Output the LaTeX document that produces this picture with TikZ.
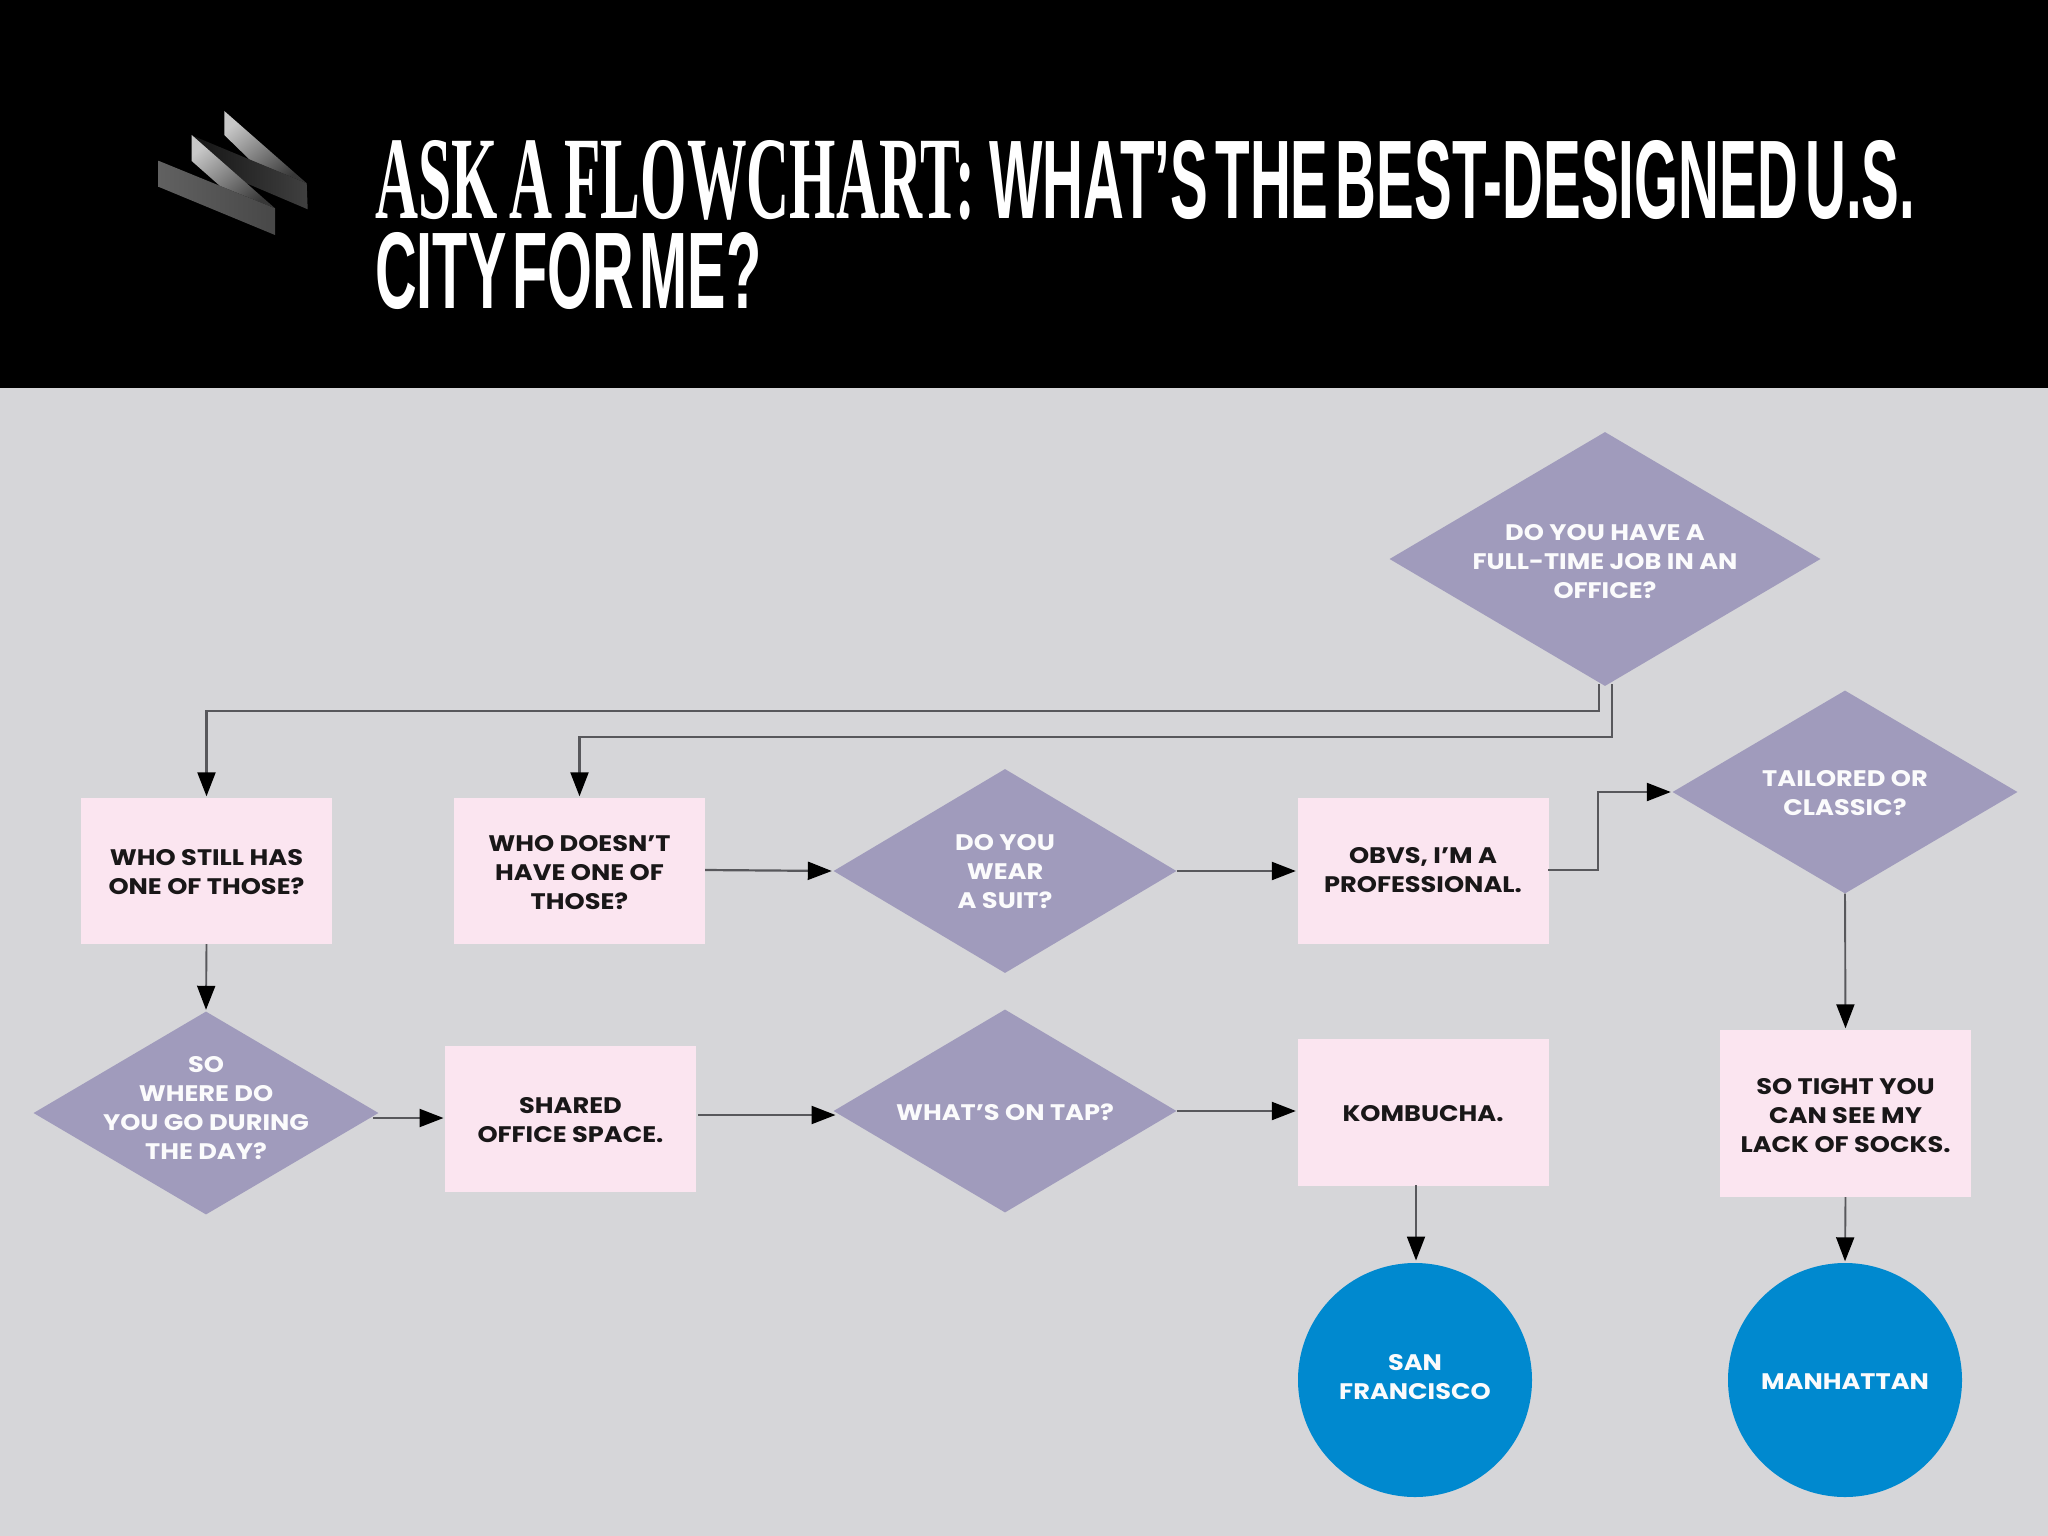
\documentclass[tikz,border=0pt]{standalone}
\usepackage{fontspec}
\usepackage{graphicx}
\setmainfont{Poppins}[FakeStretch=1.14]
\newfontfamily\titleserif{Liberation Serif}
\newfontfamily\titlesans{Liberation Sans}
\usetikzlibrary{shapes.geometric,arrows.meta,shadings}
\definecolor{bgc}{HTML}{D6D6D9}
\definecolor{dia}{HTML}{A09BBC}
\definecolor{rec}{HTML}{FBE5F0}
\definecolor{cir}{HTML}{0089CF}
\definecolor{lin}{HTML}{58585C}
\tikzset{
  x=1pt,y=-1pt,
  txt/.style={font=\fontsize{22.5}{29}\selectfont\bfseries,align=center,inner sep=0pt},
  diamtext/.style={txt,text=white!96!dia},
  rectext/.style={txt,text=black!90!rec},
  recbox/.style={rectangle,fill=rec,inner sep=0pt,minimum width=251pt},
  diam/.style={diamond,fill=dia,inner sep=0pt,aspect=1.7},
  circ/.style={circle,fill=cir,inner sep=0pt,minimum size=234pt},
  conn/.style={draw=lin,line width=2.2pt,-{Triangle[length=24pt,width=18pt,color=black]},shorten >=1.5pt},
  connfine/.style={conn,line width=1.9pt},
  titlenode/.style={anchor=base west,inner sep=0pt,text=white,font=\bfseries}
}
\begin{document}
\begin{tikzpicture}
\useasboundingbox (0,0) rectangle (2048,1536);
\fill[bgc] (0,0) rectangle (2048,1536);
\fill[black] (0,0) rectangle (2048,388);
% logo
\shade[top color=black!22,bottom color=black!78,shading angle=40] (224.3,111) -- (306.7,183.3) -- (250,160) -- (224.3,135) -- cycle;
\shade[left color=black!92,right color=black!75] (193.3,136) -- (306.7,183.3) -- (307.7,209.3) -- (220,172) -- cycle;
\shade[top color=black!22,bottom color=black!78,shading angle=40] (191.7,135) -- (275,208.3) -- (220,186) -- (191.7,161) -- cycle;
\shade[left color=black!62,right color=black!72] (158.3,160.7) -- (275,208.3) -- (275,235) -- (158.3,186.7) -- cycle;
% title
\node[titlenode] (t1) at (375,218) {\resizebox{600pt}{78pt}{\titleserif\spaceskip=.2em ASK A FLOWCHART:}\hspace{14pt}\resizebox{926pt}{78pt}{\titlesans\spaceskip=.13em WHAT’S THE BEST-DESIGNED U.S.}};
\node[titlenode] (t2) at (375,308) {\resizebox{386pt}{76pt}{\titlesans\spaceskip=.1em CITY FOR ME?}};
% diamonds
\node[diam,minimum width=431pt,minimum height=254pt,label={[diamtext,yshift=-3pt]center:DO YOU HAVE A\\FULL-TIME JOB IN AN\\OFFICE?}] (d1) at (1605,559) {};
\node[diam,minimum width=345pt,minimum height=203pt,label={[diamtext,yshift=-1pt]center:TAILORED OR\\CLASSIC?}] (tail) at (1845,792) {};
\node[diam,minimum width=343pt,minimum height=204pt,label={[diamtext,yshift=-1pt]center:DO YOU\\WEAR\\A SUIT?}] (wear) at (1005,871) {};
\node[diam,minimum width=345pt,minimum height=203pt,label={[diamtext,yshift=5pt]center:SO\\WHERE DO\\YOU GO DURING\\THE DAY?}] (where) at (206,1113) {};
\node[diam,minimum width=343pt,minimum height=203pt,label={[diamtext,yshift=-1pt]center:WHAT’S ON TAP?}] (tap) at (1005,1111) {};
% boxes
\node[recbox,minimum height=146pt,label={[rectext,yshift=-1pt]center:WHO STILL HAS\\ONE OF THOSE?}] (still) at (206.5,871) {};
\node[recbox,minimum height=146pt,label={[rectext,yshift=-2pt]center:WHO DOESN’T\\HAVE ONE OF\\THOSE?}] (doesnt) at (579.5,871) {};
\node[recbox,minimum height=146pt,label={[rectext,yshift=1pt]center:OBVS, I’M A\\PROFESSIONAL.}] (obvs) at (1423,871) {};
\node[recbox,minimum height=146pt,label={[rectext,yshift=-1pt]center:SHARED\\OFFICE SPACE.}] (shared) at (570.5,1119) {};
\node[recbox,minimum height=147pt,label={[rectext,yshift=-2pt]center:KOMBUCHA.}] (komb) at (1423,1112) {};
\node[recbox,minimum height=167pt,label={[rectext,yshift=-2pt]center:SO TIGHT YOU\\CAN SEE MY\\LACK OF SOCKS.}] (tight) at (1845.5,1113.5) {};
% circles
\node[circ,label={[diamtext,yshift=3pt]center:SAN\\FRANCISCO}] (sf) at (1415,1380) {};
\node[circ,label={[diamtext,yshift=-2pt]center:MANHATTAN}] (man) at (1845,1380) {};
% connector helpers
\coordinate (j1) at (1599,684);
\coordinate (e1) at (1599,711);
\coordinate (j2) at (1612,684);
\coordinate (e2) at (1612,737);
\coordinate (s1) at (705,870);
\coordinate (o1) at (1548,870);
\coordinate (o2) at (1598,870);
\coordinate (o3) at (1598,792);
\coordinate (w1) at (373,1118);
\coordinate (w2) at (445,1118);
\coordinate (sh1) at (698,1115);
\coordinate (sh2) at (837,1115);
\coordinate (kb1) at (1416,1185);
\coordinate (kb2) at (1416,1262);
% connectors
\draw[conn] (j1) -- (e1) -| (still.north);
\draw[conn] (j2) -- (e2) -| (doesnt.north);
\draw[connfine] (still.south) -- (where.north);
\draw[conn] (s1) -- (wear.west);
\draw[conn] (wear.east) -- (obvs.west |- wear.east);
\draw[conn] (o1) -- (o2) -- (o3) -- (tail.west);
\draw[connfine] (tail.south) -- (tight.north);
\draw[conn] (w1) -- (w2);
\draw[conn] (sh1) -- (sh2);
\draw[conn] (tap.east) -- (komb.west |- tap.east);
\draw[connfine] (kb1) -- (kb2);
\draw[connfine] (tight.south) -- (man.north);
\end{tikzpicture}
\end{document}
